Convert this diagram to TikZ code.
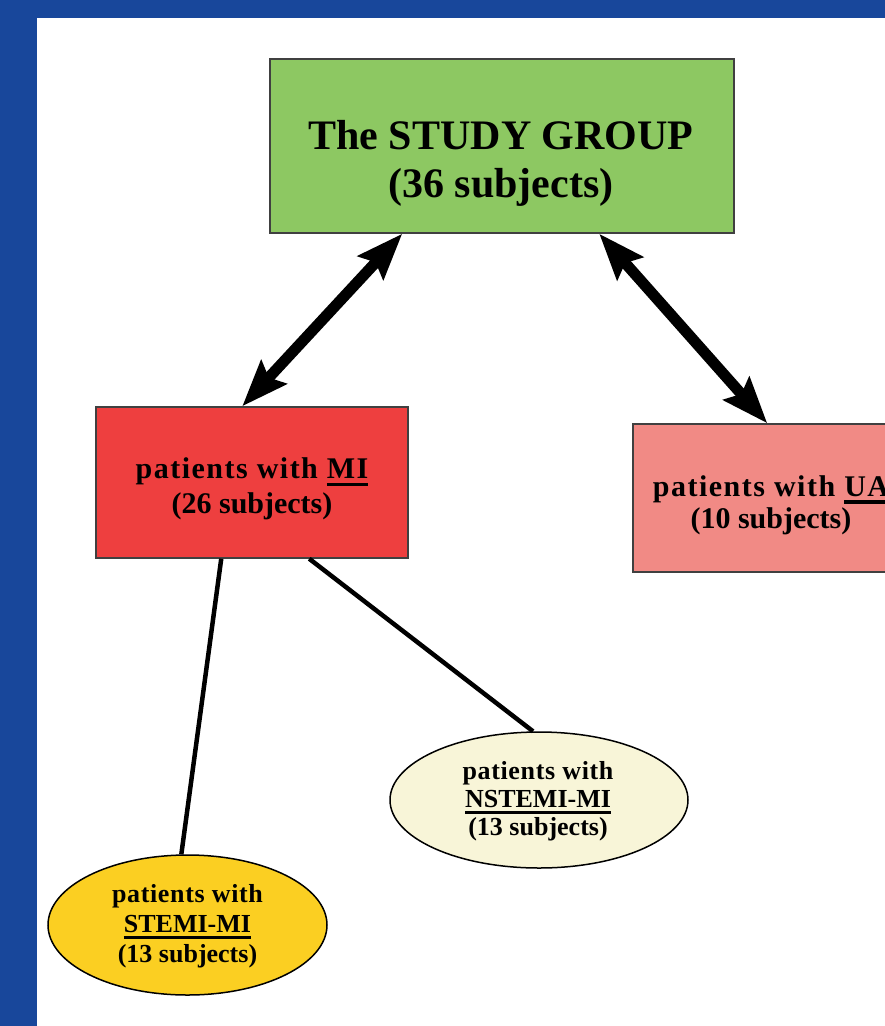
\documentclass[tikz,border=0pt]{standalone}
\usepackage{fontspec}
\setmainfont{Liberation Serif}
\usetikzlibrary{arrows.meta,shapes.geometric,calc}
\definecolor{framecol}{HTML}{18479B}
\definecolor{greenc}{HTML}{8DC862}
\definecolor{redc}{HTML}{EE3F3F}
\definecolor{pinkc}{HTML}{F18A85}
\definecolor{yellowc}{HTML}{FBCF22}
\definecolor{creamc}{HTML}{F8F5D8}
\definecolor{edgec}{HTML}{404040}
\newcommand{\myul}[1]{\leavevmode\setbox0=\hbox{#1}\rlap{\vrule width\wd0 height -0.13em depth 0.25em}\box0}
\newcommand{\wide}[1]{{\addfontfeature{LetterSpace=5}#1}}
\newcommand{\wideb}[1]{{\addfontfeature{LetterSpace=2.5}#1}}
\tikzset{
  boxnode/.style={draw=edgec, line width=1.5pt, rectangle, inner sep=0pt},
  ellnode/.style={draw=black, line width=1.5pt, ellipse, inner sep=0pt},
  txt/.style={align=center, inner sep=0pt, text=black},
  bigarrow/.style={line width=11pt, {Stealth[length=46pt,width=34pt,inset=7pt]}-{Stealth[length=46pt,width=34pt,inset=7pt]}},
  thinline/.style={line width=4.5pt, black}
}
\begin{document}
\begin{tikzpicture}[x=1pt,y=-1pt]
\useasboundingbox (0,0) rectangle (885,1026);
\clip (0,0) rectangle (885,1026);
\fill[framecol] (0,0) rectangle (885,1026);
\fill[white] (37,18) rectangle (900,1040);

% boxes
\node[boxnode, fill=greenc, minimum width=464pt, minimum height=174pt] (study) at (502,146) {};
\node[txt, font=\bfseries\fontsize{42}{48}\selectfont] (studytxt) at (501,163) {The STUDY GROUP\\(36 subjects)};

\node[boxnode, fill=redc, minimum width=312pt, minimum height=151pt] (mi) at (252,482.5) {};
\node[txt, font=\bfseries\fontsize{30}{35}\selectfont] (mitxt) at (252,489) {\wide{patients with \myul{MI}}\\(26 subjects)};

\node[boxnode, fill=pinkc, minimum width=276pt, minimum height=148pt] (ua) at (771,498) {};
\node[txt, font=\bfseries\fontsize{30}{32}\selectfont] (uatxt) at (771,505) {\wide{patients with \myul{UA}}\\(10 subjects)};

% ellipses
\node[ellnode, fill=creamc, minimum width=298pt, minimum height=136pt] (nstemi) at (539,800) {};
\node[txt, font=\bfseries\fontsize{26}{28}\selectfont] (nstemitxt) at (538,801) {\wideb{patients with}\\\myul{NSTEMI-MI}\\(13 subjects)};

\node[ellnode, fill=yellowc, minimum width=279pt, minimum height=140pt] (stemi) at (187.5,925) {};
\node[txt, font=\bfseries\fontsize{26}{30}\selectfont] (stemitxt) at (187.5,926) {\wideb{patients with}\\\myul{STEMI-MI}\\(13 subjects)};

% connectors
\draw[bigarrow] ($(study.south west)+(133,0)$) -- ($(mi.north west)+(147,0)$);
\draw[bigarrow] ($(study.south west)+(330,0)$) -- ($(ua.north west)+(135,0)$);
\draw[thinline] ($(mi.south west)+(126,0)$) -- (stemi.95);
\draw[thinline] ($(mi.south west)+(214,0)$) -- (nstemi.95);
\end{tikzpicture}
\end{document}
